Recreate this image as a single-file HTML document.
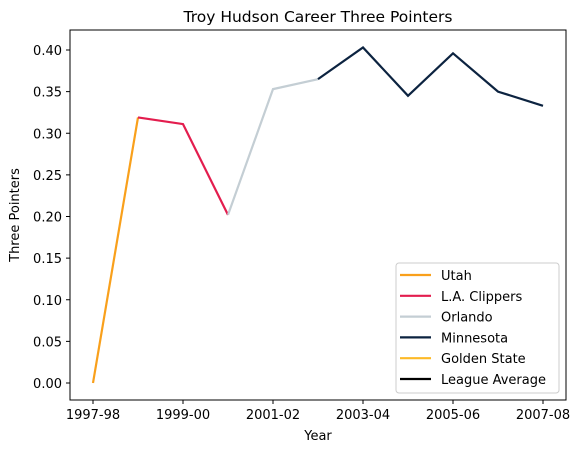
<!DOCTYPE html>
<html><head><meta charset="utf-8"><style>
body{margin:0;background:#fff;}
svg text{font-family:"DejaVu Sans","Liberation Sans",sans-serif;fill:#000;}
</style></head><body>
<svg id="chart" width="582" height="453">
<text x="318" y="22" font-size="15.5" text-anchor="middle">Troy Hudson Career Three Pointers</text>
<g id="grid"></g>
<g id="lines"></g>
<rect x="70" y="30" width="496" height="370" fill="none" stroke="#000" stroke-width="1"/>
<text x="318" y="440" font-size="13" text-anchor="middle">Year</text>
<text x="19" y="215" font-size="13" text-anchor="middle" transform="rotate(-90 19 215)">Three Pointers</text>
<g id="legend"></g>
</svg>
<script>
const seasons=["1997-98","1998-99","1999-00","2000-01","2001-02","2002-03","2003-04","2004-05","2005-06","2006-07","2007-08"];
const xTicks=["1997-98","1999-00","2001-02","2003-04","2005-06","2007-08"];
const yTicks=[0,0.05,0.1,0.15,0.2,0.25,0.3,0.35,0.4];
const teams=["Utah","L.A. Clippers","Orlando","Minnesota","Golden State","League Average"];
const colors=["#f9a01b","#e31d4e","#c4ced4","#0c2340","#fdb927","#000000"];
const utahSeasons=["1997-98","1998-99"];
const utahValues=[0.0,0.319];
const clipSeasons=["1998-99","1999-00","2000-01"];
const clipValues=[0.319,0.311,0.202];
const orlSeasons=["2000-01","2001-02","2002-03"];
const orlValues=[0.202,0.353,0.365];
const minSeasons=["2002-03","2003-04","2004-05","2005-06","2006-07","2007-08"];
const minValues=[0.365,0.403,0.345,0.396,0.350,0.333];
const ns="http://www.w3.org/2000/svg";
const xs=s=>93+45*seasons.indexOf(s);
const ys=v=>383-v*(333/0.4);
function mk(t,a,p){const e=document.createElementNS(ns,t);for(const k in a)e.setAttribute(k,a[k]);p.appendChild(e);return e;}
const g=document.getElementById('grid');
xTicks.forEach(t=>{const x=xs(t);
const l=mk('line',{x1:x,x2:x,y1:400,y2:404,stroke:'#000'},g);


const tx=mk('text',{x:x,y:419,'font-size':13,'text-anchor':'middle'},g);tx.textContent=t;

});
yTicks.forEach(v=>{const y=ys(v);
const l=mk('line',{x1:66,x2:70,y1:y,y2:y,stroke:'#000'},g);


const tx=mk('text',{x:62,y:y+5,'font-size':13,'text-anchor':'end'},g);tx.textContent=v.toFixed(2);

});
const L=document.getElementById('lines');
[[utahSeasons,utahValues,0],[clipSeasons,clipValues,1],[orlSeasons,orlValues,2],[minSeasons,minValues,3]].forEach(([s,v,i])=>{
const p=mk('polyline',{points:s.map((q,j)=>xs(q)+','+ys(v[j])).join(' '),fill:'none',stroke:colors[i],'stroke-width':2.2},L);

});
const lg=document.getElementById('legend');
const box=mk('rect',{x:396,y:263,width:163,height:130,rx:3,fill:'#fff','fill-opacity':0.8,stroke:'#ccc'},lg);


teams.forEach((t,i)=>{const y=275+i*20.8;
mk('line',{x1:400,x2:431,y1:y,y2:y,stroke:colors[i],'stroke-width':2.2},lg);
const tx=mk('text',{x:441,y:y+5,'font-size':13},lg);tx.textContent=t;

});
</script>
</body></html>
